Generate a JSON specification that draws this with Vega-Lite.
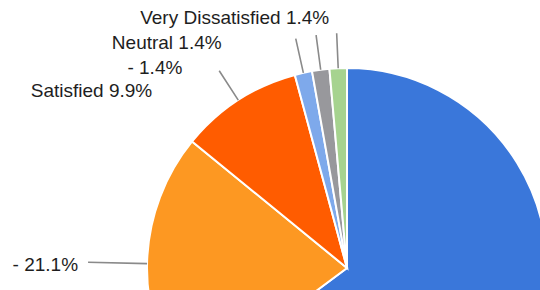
{
  "$schema": "https://vega.github.io/schema/vega-lite/v6.json",
  "width": 694,
  "height": 536,
  "padding": 0,
  "autosize": {"type": "none"},
  "background": "white",
  "config": {"view": {"stroke": null}},
  "data": {"values": [
    {"label": "Very Satisfied 64.8%", "value": 64.8, "order": 1},
    {"label": "- 21.1%", "value": 21.1, "order": 2},
    {"label": "Satisfied 9.9%", "value": 9.9, "order": 3},
    {"label": "- 1.4%", "value": 1.4, "order": 4},
    {"label": "Neutral 1.4%", "value": 1.4, "order": 5},
    {"label": "Very Dissatisfied 1.4%", "value": 1.4, "order": 6}
  ]},
  "transform": [
    {"stack": "value", "groupby": [], "sort": [{"field": "order", "order": "ascending"}], "as": ["start", "end"]}
  ],
  "layer": [
    {
      "mark": {"type": "arc", "outerRadius": 200, "stroke": "white", "strokeWidth": 2},
      "encoding": {
        "theta": {"field": "start", "type": "quantitative", "scale": {"domain": [0, 100]}},
        "theta2": {"field": "end"},
        "color": {
          "field": "label", "type": "nominal", "legend": null,
          "scale": {
            "domain": ["Very Satisfied 64.8%", "- 21.1%", "Satisfied 9.9%", "- 1.4%", "Neutral 1.4%", "Very Dissatisfied 1.4%"],
            "range": ["#3a77da", "#fd9822", "#ff5c00", "#7ea9eb", "#98989c", "#a6d38f"]
          }
        }
      }
    },
    {
      "transform": [{"fold": ["start", "end"], "as": ["k", "v"]}],
      "encoding": {
        "theta": {"aggregate": "mean", "field": "v", "type": "quantitative", "stack": null, "scale": {"domain": [0, 100]}},
        "theta2": {"aggregate": "mean", "field": "v"},
        "detail": {"field": "label", "type": "nominal"}
      },
      "layer": [
        {
          "transform": [{"filter": "datum.order == 2"}],
          "mark": {"type": "arc", "innerRadius": 200, "outerRadius": 259, "fill": "transparent", "stroke": "#8a8a8a", "strokeWidth": 1.6}
        },
        {
          "transform": [{"filter": "datum.order > 2"}],
          "mark": {"type": "arc", "innerRadius": 200, "outerRadius": 235, "fill": "transparent", "stroke": "#8a8a8a", "strokeWidth": 1.6}
        }
      ]
    },
    {
      "transform": [{"fold": ["start", "end"], "as": ["k", "v"]}],
      "encoding": {
        "theta": {"aggregate": "mean", "field": "v", "type": "quantitative", "stack": null, "scale": {"domain": [0, 100]}},
        "text": {"field": "label", "type": "nominal"}
      },
      "layer": [
        {
          "transform": [{"filter": "datum.order == 2"}],
          "mark": {"type": "text", "radius": 200, "dx": -69, "dy": 1, "align": "right", "baseline": "middle", "font": "Liberation Sans", "fontSize": 19, "fill": "#1e1e1e"}
        },
        {
          "transform": [{"filter": "datum.order == 3"}],
          "mark": {"type": "text", "radius": 200, "dx": -86, "dy": -9, "align": "right", "baseline": "middle", "font": "Liberation Sans", "fontSize": 19, "fill": "#1e1e1e"}
        },
        {
          "transform": [{"filter": "datum.order == 4"}],
          "mark": {"type": "text", "radius": 200, "dx": -121, "dy": -5, "align": "right", "baseline": "middle", "font": "Liberation Sans", "fontSize": 19, "fill": "#1e1e1e"}
        },
        {
          "transform": [{"filter": "datum.order == 5"}],
          "mark": {"type": "text", "radius": 200, "dx": -99, "dy": -27, "align": "right", "baseline": "middle", "font": "Liberation Sans", "fontSize": 19, "fill": "#1e1e1e"}
        },
        {
          "transform": [{"filter": "datum.order == 6"}],
          "mark": {"type": "text", "radius": 200, "dx": -9, "dy": -50, "align": "right", "baseline": "middle", "font": "Liberation Sans", "fontSize": 19, "fill": "#1e1e1e"}
        }
      ]
    }
  ]
}
